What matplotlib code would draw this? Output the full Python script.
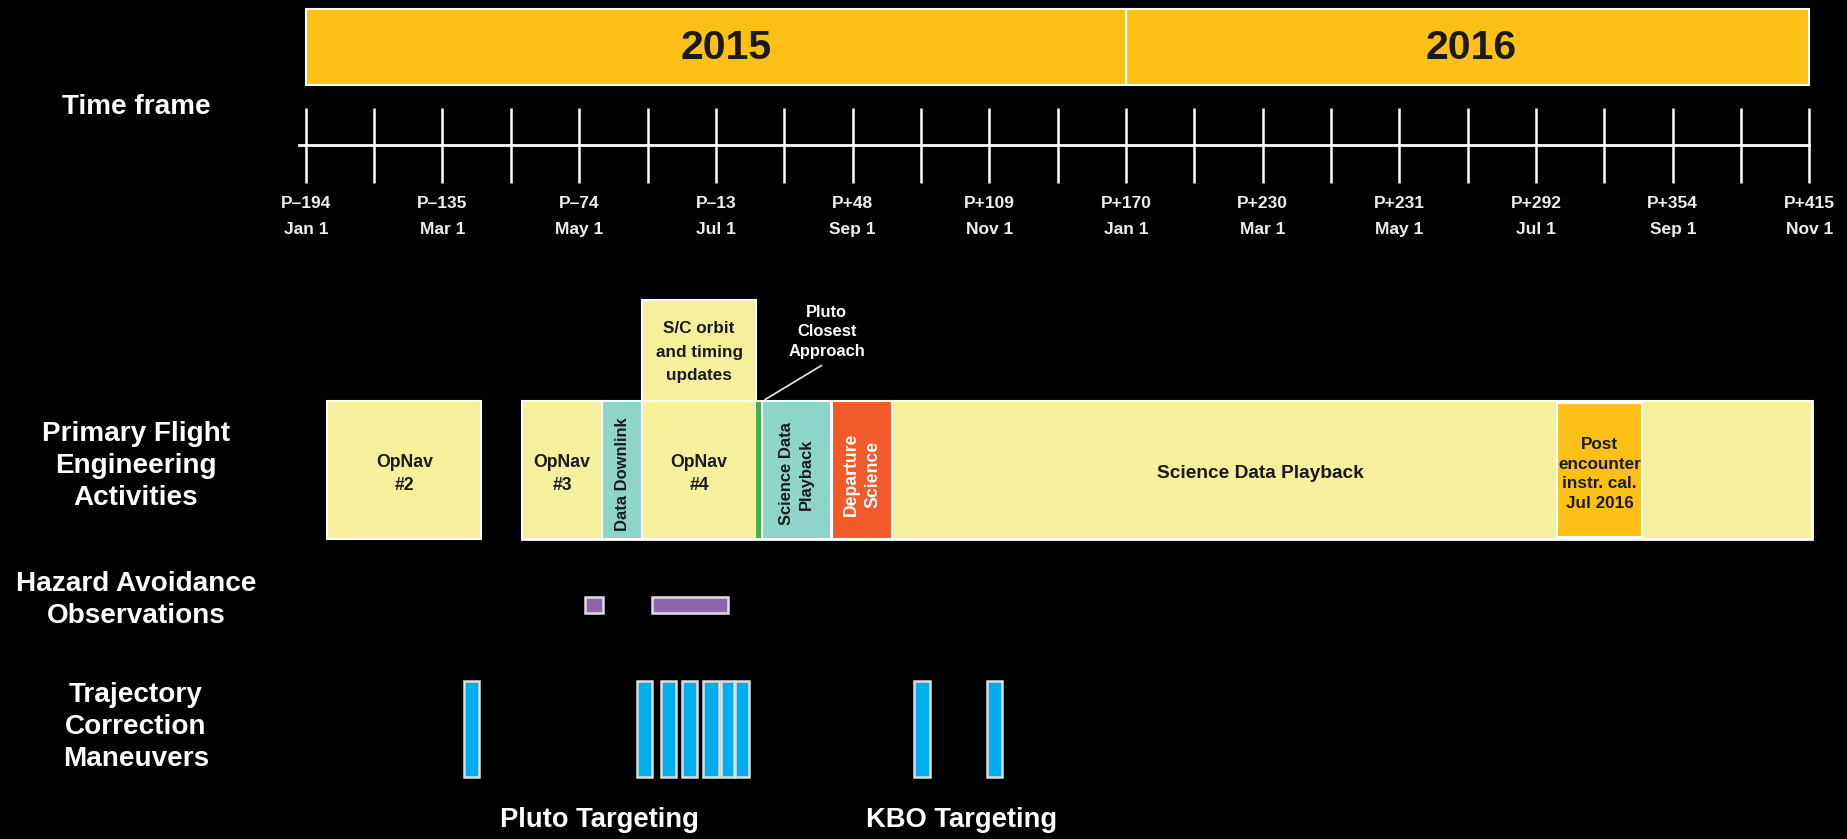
import matplotlib
matplotlib.use('Agg')
import matplotlib.pyplot as plt
from matplotlib import font_manager
from matplotlib.patches import Rectangle

# time frame (months since Jan 1 2015)
years = ['2015', '2016']
year_start = [0, 12]
year_end = [12, 22]

tick_months = list(range(23))
label_months = list(range(0, 23, 2))
p_labels = ['P\u2013194', 'P\u2013135', 'P\u201374', 'P\u201313', 'P+48', 'P+109',
            'P+170', 'P+230', 'P+231', 'P+292', 'P+354', 'P+415']
date_labels = ['Jan 1', 'Mar 1', 'May 1', 'Jul 1', 'Sep 1', 'Nov 1',
               'Jan 1', 'Mar 1', 'May 1', 'Jul 1', 'Sep 1', 'Nov 1']

# primary flight engineering activities
act_labels = ['OpNav\n#2', 'OpNav\n#3', 'Data Downlink', 'OpNav\n#4',
              'Science Data\nPlayback', 'Departure\nScience',
              'Science Data Playback', 'Post\nencounter\ninstr. cal.\nJul 2016']
act_start = [0.31, 3.16, 4.34, 4.92, 6.68, 7.70, 8.58, 18.31]
act_end = [2.57, 4.34, 4.92, 6.59, 7.68, 8.58, 22.03, 19.55]

orbit_label = 'S/C orbit\nand timing\nupdates'
orbit_start, orbit_end = 4.92, 6.59

pca_label = 'Pluto\nClosest\nApproach'
pca_month = 6.625

# hazard avoidance observations
haz_start = [4.09, 5.06]
haz_end = [4.35, 6.17]

# trajectory correction maneuvers
tcm_start = [2.31, 4.85, 5.20, 5.51, 5.81, 6.07, 6.28, 8.90, 9.97]
tcm_end = [2.53, 5.07, 5.42, 5.73, 6.04, 6.27, 6.49, 9.13, 10.19]

target_labels = ['Pluto Targeting', 'KBO Targeting']
target_months = [4.30, 9.59]

row_labels = ['Time frame', 'Primary Flight\nEngineering\nActivities',
              'Hazard Avoidance\nObservations', 'Trajectory\nCorrection\nManeuvers']

# ---- style ----
YELLOW = '#fdc016'
PALE = '#f4f09c'
TEAL = '#8ed4c9'
RED = '#f15a29'
GREEN = '#3cb44a'
PURPLE = '#8c65ad'
BLUE = '#00adee'
DARK = '#1a1a1a'
act_colors = [PALE, PALE, TEAL, PALE, TEAL, RED, PALE, YELLOW]
act_rot = [0, 0, 90, 0, 90, 90, 0, 0]
act_tcolor = [DARK] * 5 + ['white'] + [DARK] * 2
act_fs = [15.5, 15.5, 14.5, 15.5, 14.5, 15.5, 16.8, 15.0]
act_ls = [1.5, 1.5, 1.0, 1.5, 1.35, 1.35, 1.0, 1.4]
act_label_x = {6: 13.97}
year_label_x = [6.15, 17.05]

names = {f.name for f in font_manager.fontManager.ttflist}
if 'Liberation Sans Narrow' in names:
    FONT, k = 'Liberation Sans Narrow', 1.0
else:
    FONT, k = 'Liberation Sans', 0.82
plt.rcParams['font.family'] = [FONT, 'DejaVu Sans']
plt.rcParams['font.weight'] = 'bold'

fig = plt.figure(figsize=(18.47, 8.39), dpi=100)
fig.patch.set_facecolor('black')
ax = fig.add_axes([0, 0, 1, 1])
ax.set_facecolor('black')
ax.set_xlim(-4.474, 22.549)
ax.set_ylim(839, 0)
ax.axis('off')

# year bar
for yr, s, e, lx in zip(years, year_start, year_end, year_label_x):
    ax.add_patch(Rectangle((s, 9), e - s, 76, facecolor=YELLOW, edgecolor='white', lw=1.5))
    ax.text(lx, 48, yr, ha='center', va='center', fontsize=29.5, color=DARK,
            family='Liberation Sans', fontweight='bold')

# timeline
ax.plot([-0.1, 22], [145, 145], color='white', lw=2)
ax.vlines(tick_months, 108, 183, color='white', lw=1.8)
for m, p, d in zip(label_months, p_labels, date_labels):
    ax.text(m, 208, p, ha='center', va='baseline', fontsize=15.3 * k, color='#eeeeee')
    ax.text(m, 234, d, ha='center', va='baseline', fontsize=15.3 * k, color='#eeeeee')

# primary activities
top, bot = 401, 539
ax.add_patch(Rectangle((orbit_start, 300), orbit_end - orbit_start, top - 300,
                       facecolor=PALE, edgecolor='white', lw=1.5))
ax.text((orbit_start + orbit_end) / 2, 352, orbit_label, ha='center', va='center',
        fontsize=15 * k, color=DARK, linespacing=1.72)
ax.add_patch(Rectangle((act_start[1], top), act_end[6] - act_start[1], bot - top,
                       facecolor=PALE, edgecolor='white', lw=2))
for i, (lab, s, e) in enumerate(zip(act_labels, act_start, act_end)):
    y0, h = (top + 2, bot - top - 4) if i == 7 else (top, bot - top)
    ax.add_patch(Rectangle((s, y0), e - s, h, facecolor=act_colors[i],
                           edgecolor='white', lw=1.5))
    x = act_label_x.get(i, (s + e) / 2)
    ax.text(x, 474, lab, ha='center', va='center', rotation=act_rot[i],
            fontsize=act_fs[i] * k, color=act_tcolor[i], linespacing=act_ls[i])
ax.add_patch(Rectangle((pca_month - 0.035, top + 1), 0.07, bot - top - 2,
                       facecolor=GREEN, edgecolor='none'))
ax.annotate('', xy=(pca_month + 0.06, top), xytext=(7.58, 364),
            arrowprops=dict(arrowstyle='-', color='#dddddd', lw=1.3))
ax.text(7.62, 332, pca_label, ha='center', va='center', fontsize=14.5 * k,
        color='white', linespacing=1.4)

# hazard avoidance
for s, e in zip(haz_start, haz_end):
    ax.add_patch(Rectangle((s, 597), e - s, 16, facecolor=PURPLE, edgecolor='#dddddd', lw=1.8))

# TCMs
for s, e in zip(tcm_start, tcm_end):
    ax.add_patch(Rectangle((s, 681), e - s, 96, facecolor=BLUE, edgecolor='#dddddd', lw=1.8))
for lab, m in zip(target_labels, target_months):
    ax.text(m, 820, lab, ha='center', va='center', fontsize=24 * k, color='white')

# row labels
for lab, y in zip(row_labels, [107, 466, 600, 727]):
    ax.text(-2.484, y, lab, ha='center', va='center', fontsize=24.5 * k,
            color='white', linespacing=1.3)

fig.savefig('out.png', dpi=100, facecolor='black')
